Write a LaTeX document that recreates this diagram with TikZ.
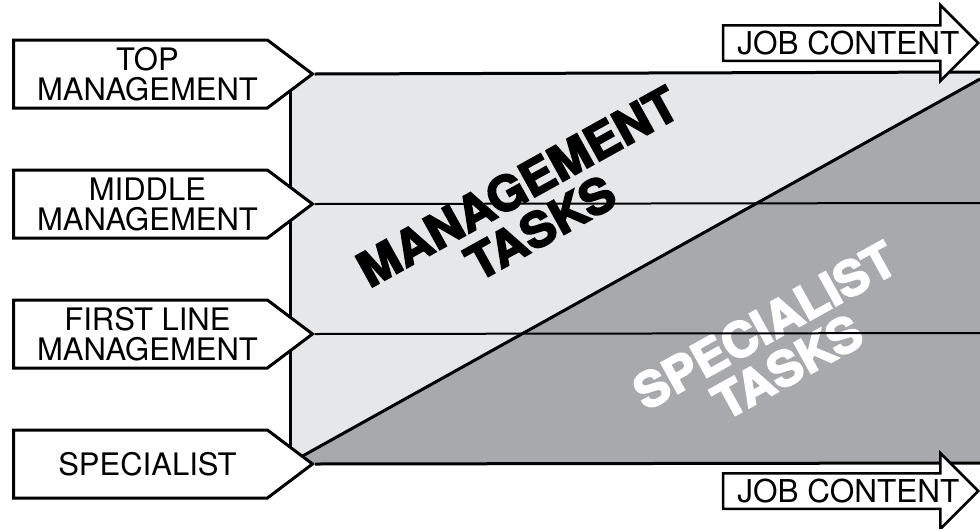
\documentclass[tikz,border=0pt]{standalone}
\usepackage{fontspec}
\setmainfont{TeX Gyre Heros}
\newfontfamily\heavyfont{TeX Gyre Heros Bold}[FakeBold=3.5, FakeStretch=1.03]
\usetikzlibrary{shapes.symbols, shapes.arrows}
\definecolor{TaskLight}{RGB}{230,231,232}
\definecolor{TaskDark}{RGB}{167,169,172}
% indent that pushes a name towards the pointer
\newcommand{\pushr}{\hspace*{14pt}}

\begin{document}
\begin{tikzpicture}[x=1pt, y=-1pt,
          lvl/.style={signal, signal to=east, signal pointer angle=74,
                      draw=black, fill=white, line width=3pt,
                      minimum width=299pt, minimum height=68pt,
                      inner sep=0pt, align=center,
                      font=\fontsize{31}{30}\selectfont},
          jobarrow/.style={single arrow, draw=black, fill=white,
                           line width=2.5pt, minimum height=253pt,
                           single arrow head extend=20pt,
                           text height=22pt, text depth=0pt,
                           inner ysep=5.5pt, inner xsep=0pt,
                           font=\fontsize{31.5}{30}\selectfont},
          tasks/.style={align=center, inner sep=0pt,
                        font=\heavyfont\fontsize{48}{47}\selectfont},
          level/.style={line width=2pt},
          frame/.style={line width=3pt}
        ]
        \useasboundingbox (0,0) rectangle (980,528);

        % shaded areas
        \fill[TaskLight] (290,72) rectangle (980,463);
        \fill[TaskDark] (290,463) -- (980,79) -- (980,463) -- cycle;
        \draw[frame] (290,72) -- (290,463);
        \draw[frame] (290,463) -- (980,79);

        % task labels
        \node[tasks, rotate=29] (mgt) at (529,207) {MANAGEMENT\\TASKS};
        \node[tasks, rotate=29, white] (spec) at (776,346) {SPECIALIST\\TASKS};

        % levels
        \node[lvl, anchor=east] (top) at (315,74) {\pushr TOP\\\pushr MANAGEMENT};
        \node[lvl, anchor=east] (mid) at (315,204) {\pushr MIDDLE\\\pushr MANAGEMENT};
        \node[lvl, anchor=east] (first) at (315,334) {\pushr FIRST LINE\\\pushr MANAGEMENT};
        \node[lvl, anchor=east] (spl) at (315,464) {\pushr SPECIALIST};

        \coordinate (topend) at (980,72);
        \coordinate (midend) at (980,203);
        \coordinate (firstend) at (980,333);
        \coordinate (splend) at (980,463);

        \draw[frame] (top.east) -- (topend);
        \draw[level] (mid.east) -- (midend);
        \draw[level] (first.east) -- (firstend);
        \draw[frame] (spl.east) -- (splend);

        % job content arrows
        \node[jobarrow, anchor=tip] (jobtop) at (980,43) {\hspace*{13pt}JOB CONTENT};
        \node[jobarrow, anchor=tip] (jobbot) at (980,491) {\hspace*{13pt}JOB CONTENT};
      \end{tikzpicture}
\end{document}
